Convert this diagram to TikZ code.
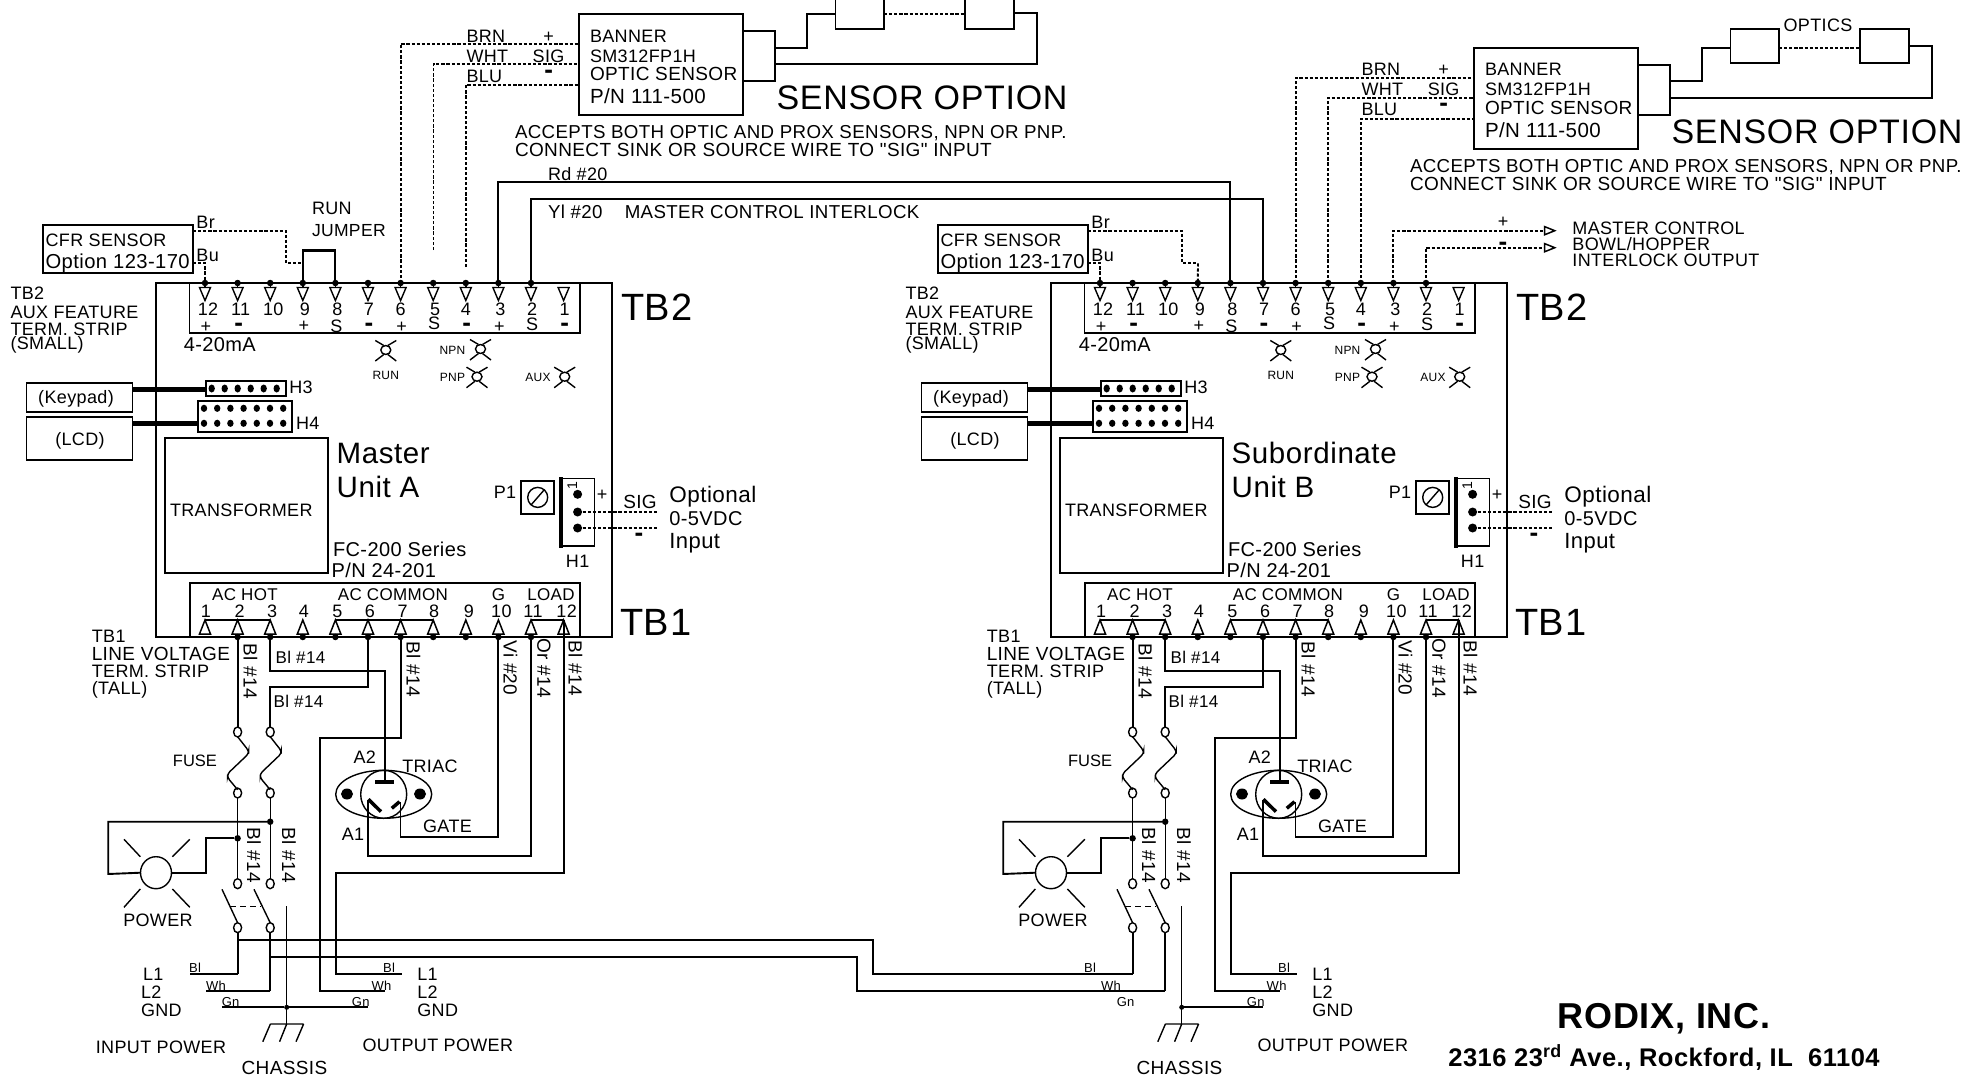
\documentclass[tikz,border=0pt]{standalone}
\usepackage{fontspec}
\setmainfont[LetterSpace=2]{Liberation Sans}
\newfontfamily\plainface{Liberation Sans}
\newfontfamily\qface[LetterSpace=2]{Liberation Sans}
\usetikzlibrary{shapes.geometric,arrows.meta}
\newcommand{\fsz}[1]{\fontsize{#1}{#1}\selectfont}
\tikzset{
  w/.style={line width=1.9pt,line join=miter},
  thn/.style={line width=1.4pt},
  dsh/.style={line width=1.9pt,dash pattern=on 3.2pt off 1.9pt},
  bx/.style={draw,line width=1.9pt,inner sep=0,outer sep=0},
  lb/.style={inner sep=0,outer sep=0,font=\fsz{18},align=left},
  lw/.style={lb,anchor=west},
  big/.style={lb,anchor=west,font=\fsz{38}},
  tiny/.style={lb,font=\fsz{13}},
  led/.style={lb,font=\fsz{12}},
  minus/.style={lb,font=\fsz{26}\bfseries},
  contact/.style={ellipse,draw,thn,fill=white,inner sep=0,outer sep=0,minimum width=8pt,minimum height=10pt},
  dot/.style={circle,fill=black,inner sep=0,outer sep=0,minimum size=6.5pt},
}
\newcommand{\LEDsym}[2]{%
  \begin{scope}[shift={(#1,#2)},thn]
    \draw (0,0) ellipse (5 and 4.5);
    \draw (2,-4.5)--(10.5,-9.5) (-2,-4.5)--(-10.5,-9.5) (2,4.5)--(10.5,11) (-2,4.5)--(-10.5,11);
  \end{scope}}
\newcommand{\FuseSym}[1]{%
  \draw[thn,rounded corners=3pt] (#1,736.7)--++(11,14)--++(0,3)--++(-21,20)--++(0,4)--++(10,12);}
\newcommand{\SensorBox}{%
  \node[bx,minimum width=163.6pt,minimum height=101pt] (sens) at (661.2,64.5) {};
  \node[bx,minimum width=32pt,minimum height=50pt] (conn) at (759,56) {};
  \node[bx,minimum width=48.5pt,minimum height=34pt] (o1) at (859.75,12) {};
  \node[bx,minimum width=48.5pt,minimum height=34pt] (o2) at (989.5,12) {};
  \coordinate (sbrn) at (579.4,44);
  \coordinate (swht) at (579.4,64);
  \coordinate (sblu) at (579.4,85);
  \draw[w] (775,47.7) -| (806.7,14) -- (o1.west |- 0,14);
  \draw[w] (o2.east |- 0,12.7) -| (1037,64) -- (775,64);
  \draw[dsh] (o1.east |- 0,14) -- (o2.west |- 0,14);
  \node[lw] (t-ban) at (590,36) {BANNER};
  \node[lw] (t-sm) at (590,56) {SM312FP1H};
  \node[lw,font=\fsz{19}] (t-op) at (590,74) {OPTIC SENSOR};
  \node[lw,font=\fsz{20.5}] (t-pn) at (590,96) {P/N 111-500};
  \node[lw] (t-brn) at (466.5,36) {BRN};
  \node[lw] (t-wht) at (466.5,56) {WHT};
  \node[lw] (t-blu) at (466.5,76) {BLU};
  \node[lb] (t-pl) at (548.6,37) {+};
  \node[lb] (t-sig) at (548.6,56) {SIG};
  \node[minus] (t-mi) at (548.6,74) {-};
  \node[big,font=\fsz{34}] (t-so) at (776.6,98) {SENSOR OPTION};
  \node[lw,font=\fsz{18.7}] (t-a1) at (515,133) {ACCEPTS BOTH OPTIC AND PROX SENSORS, NPN OR PNP.};
  \node[lw,font=\fsz{19}] (t-a2) at (515,150) {CONNECT SINK OR SOURCE WIRE TO {\qface "SIG"} INPUT};
}
\newcommand{\UnitCommon}[2]{%
  \node[bx,minimum width=456pt,minimum height=354pt] (board) at (384,460) {};
  \node[bx,minimum width=390.5pt,minimum height=50pt] (tb2) at (384.75,308) {};
  \node[bx,minimum width=390pt,minimum height=54pt] (tb1) at (385,610) {};
  % TB2 terminals
  \foreach \tk/\tn/\dx in {0/12/3,1/11/3,2/10/3,3/9/2,4/8/2,5/7/1,6/6/0,7/5/2,8/4/0,9/3/2,10/2/1,11/1/1}{
    \pgfmathsetmacro{\xx}{205+32.6*\tk}
    \coordinate (tt\tn) at (\xx,283);
    \draw[thn] (\xx-5.5,287.5)--(\xx+5.5,287.5)--(\xx,300.5)--cycle;
    \ifnum\tn>1 \node[dot] (dd\tn) at (tt\tn) {}; \draw[thn] (tt\tn)--++(0,5); \fi
    \node[lb] (nn\tn) at (\xx+\dx,309) {\tn};
  }
  \foreach \tn/\tt/\yy in {12/+/327.5,9/+/326,8/S/326,6/+/327.5,5/S/323,3/+/327.5,2/S/324}{
    \node[lb] (ss\tn) at ([xshift=1pt]tt\tn |- 0,\yy) {\tt};
  }
  \foreach \tn in {11,7,4,1}{ \node[minus] (ss\tn) at ([xshift=1pt]tt\tn |- 0,327.5) {-}; }
  % TB1 terminals
  \foreach \tk/\tn/\dx in {0/1/1,1/2/2,2/3/2,3/4/1,4/5/2,5/6/2,6/7/2,7/8/1,8/9/3,9/10/3,10/11/2,11/12/3}{
    \pgfmathsetmacro{\xx}{205+32.6*\tk}
    \coordinate (ts\tn) at (\xx,637);
    \coordinate (tp\tn) at (\xx,620);
    \draw[w,line width=1.5pt] (\xx-5.5,634)--(\xx+5.5,634)--(\xx,620)--cycle;
    \ifnum\tn>1 \ifnum\tn<12 \node[dot] (de\tn) at (ts\tn) {}; \fi\fi
    \node[lb] (na\tn) at (\xx+\dx,611.5) {\tn};
  }
  \draw[w,line width=1.5pt] (tp1)--(tp3) (tp5)--(tp8) (tp11)--(tp12);
  \node[lb,font=\fsz{17}] (t-hot) at (245,595) {AC HOT};
  \node[lb,font=\fsz{17}] (t-com) at (393,595) {AC COMMON};
  \node[lb,font=\fsz{17}] (t-g) at (498.5,595) {G};
  \node[lb,font=\fsz{17}] (t-lo) at (551,595) {LOAD};
  \node[big] (t-tb2) at (621,307) {TB2};
  \node[big] (t-tb1) at (620,622) {TB1};
  \node[lw] (t-x1) at (10.5,293) {TB2};
  \node[lw] (t-x2) at (10.5,312) {AUX FEATURE};
  \node[lw] (t-x3) at (10.5,329) {TERM. STRIP};
  \node[lw] (t-x4) at (10.5,345) {(SMALL)};
  \node[lw,font=\fsz{20}] (t-420) at (183.8,345) {4-20mA};
  \LEDsym{385.8}{350}\LEDsym{480.5}{349}\LEDsym{477}{376.7}\LEDsym{564.7}{376.7}
  \node[led] (t-run) at (385.8,375) {RUN};
  \node[led] (t-npn) at (452.5,350.7) {NPN};
  \node[led] (t-pnp) at (452.5,377.5) {PNP};
  \node[led] (t-aux) at (538,377) {AUX};
  % CFR
  \node[bx,minimum width=150pt,minimum height=48pt] (cfr) at (118,249) {};
  \node[lw] (t-c1) at (45.6,240.7) {CFR SENSOR};
  \node[lw,font=\fsz{20.2}] (t-c2) at (45.6,263) {Option 123-170};
  \node[lw] (t-br) at (196.4,222.7) {Br};
  \node[lw] (t-bu) at (196.4,255.7) {Bu};
  \coordinate (cbr) at (193,230.7);
  \coordinate (cbu) at (193,263);
  \draw[dsh] (cbu) -| (tt12);
  % headers
  \node[bx,minimum width=106pt,minimum height=29pt] (keyp) at (79.5,397.2) {};
  \node[lb] (t-key) at (76,398.5) {(Keypad)};
  \node[bx,minimum width=106pt,minimum height=43.3pt] (lcd) at (79.5,438.3) {};
  \node[lb] (t-lcd) at (80,441) {(LCD)};
  \node[bx,minimum width=80pt,minimum height=15.5pt] (h3) at (245.6,388.5) {};
  \foreach \tk in {0,...,5}{ \fill (211.7+13*\tk,388.5) ellipse (3.2 and 4); }
  \node[lw] (t-h3) at (289.3,387.5) {H3};
  \node[bx,minimum width=93.8pt,minimum height=30.7pt] (h4) at (245,416.3) {};
  \foreach \tk in {0,...,6}{ \fill (204+13.2*\tk,408.3) ellipse (3.2 and 3.6); \fill (204+13.2*\tk,423.3) ellipse (3.2 and 3.6); }
  \node[lw] (t-h4) at (296,423.3) {H4};
  \draw[line width=4.5pt] (keyp.east |- 0,389.3) -- (h3.west |- 0,389.3);
  \draw[line width=4.5pt] (lcd.east |- 0,423.3) -- (h4.west |- 0,423.3);
  \node[bx,minimum width=163.2pt,minimum height=135pt] (trf) at (246.4,505.8) {};
  \node[lb] (t-trf) at (241.3,510.7) {TRANSFORMER};
  \node[lw,font=\fsz{29.5}] (t-m1) at (336.7,453.3) {#1};
  \node[lw,font=\fsz{29.5}] (t-m2) at (336.7,487.3) {#2};
  \node[lw,font=\fsz{20}] (t-fc) at (333,549) {FC-200 Series};
  \node[lw,font=\fsz{20}] (t-pn2) at (331.6,570.7) {P/N 24-201};
  % pot and H1
  \node[lb] (t-p1) at (505,492.7) {P1};
  \node[bx,minimum width=32.6pt,minimum height=33.3pt] (pot) at (537.7,497.4) {};
  \draw[thn] (537.7,497.4) circle (10);
  \draw[thn] (531,505) -- (544.5,489.5);
  \node[draw,thn,inner sep=0,outer sep=0,minimum width=33.4pt,minimum height=67.7pt] (h1) at (577.7,512.2) {};
  \draw[line width=4pt] (561,477) -- (561,547.7);
  \node[lb,rotate=90,font=\fsz{14}] (t-one) at (572.4,486) {1};
  \fill (577.6,494.3) circle (4.5);
  \fill (577.6,512) circle (4.5);
  \fill (577.6,528) circle (4.5);
  \node[lb] (t-hp) at (602,495) {+};
  \draw[dsh] (577.6,512) -- (658,512);
  \draw[dsh] (577.6,528) -- (658,528);
  \node[lb,font=\fsz{19}] (t-s2) at (640,501.7) {SIG};
  \node[minus] (t-m3) at (639,537.5) {-};
  \node[lb] (t-h1) at (577.6,561.7) {H1};
  \node[lw,font=\fsz{22.5}] (t-op1) at (669.4,496.7) {Optional};
  \node[lw,font=\fsz{20}] (t-op2) at (669.4,519) {0-5VDC};
  \node[lw,font=\fsz{22}] (t-op3) at (669.4,543.3) {Input};
  % TB1 side label
  \node[lw] (t-y1) at (91.8,636.7) {TB1};
  \node[lw,font=\fsz{19}] (t-y2) at (91.8,653.5) {LINE VOLTAGE};
  \node[lw] (t-y3) at (91.8,671.7) {TERM. STRIP};
  \node[lw] (t-y4) at (91.8,690) {(TALL)};
  % fuses
  \node[contact] (f1t) at (237.6,732) {};
  \node[contact] (f2t) at (270.2,732) {};
  \node[contact] (f1b) at (237.6,793) {};
  \node[contact] (f2b) at (270.2,793) {};
  \FuseSym{237.6}\FuseSym{270.2}
  \node[contact] (c1t) at (237.6,883.7) {};
  \node[contact] (c2t) at (270.2,883.7) {};
  \node[contact] (c1b) at (237.6,927.7) {};
  \node[contact] (c2b) at (270.2,927.7) {};
  \node[lb,font=\fsz{16.5}\plainface] (t-fuse) at (195,760.7) {FUSE};
  \draw[thn] (f1b) -- (c1t);
  \draw[thn] (f2b) -- (c2t);
  \node[dot] (d1) at (237.6,838.3) {};
  \node[dot] (d2) at (270.2,821.7) {};
  % lamp
  \node[ellipse,draw,thn,inner sep=0,outer sep=0,minimum width=31pt,minimum height=32pt] (lamp) at (156,872.7) {};
  \draw[w] (d2) -| (108.2,874) -- (lamp.west);
  \draw[w] (lamp.east) -| (205.6,838.3) -- (d1);
  \draw[thn] (140.3,856.7)--(124,839.3) (172.4,856.7)--(189.8,839.3) (140.3,889)--(124,907.3) (172.4,889)--(189.8,907.3);
  \node[lb] (t-pow) at (158,920) {POWER};
  % switch
  \draw[thn] (222,889.3)--(c1b.north) (254,889.3)--(c2b.north);
  \draw[thn,dash pattern=on 6pt off 4pt] (230,906.7)--(261,906.7);
  \coordinate (j1) at (237.6,974);
  \coordinate (j2) at (270.2,990.7);
  \draw[w] (c1b.south) -- (j1);
  \draw[w] (c2b.south) -- (j2);
  \node[tiny] (t-bl1) at (195,968) {Bl};
  \node[tiny] (t-wh1) at (216,985.7) {Wh};
  \node[tiny] (t-gn1) at (230.6,1002.3) {Gn};
  \node[tiny] (t-bl2) at (389,968) {Bl};
  \node[tiny] (t-wh2) at (381.6,985.7) {Wh};
  \node[tiny] (t-gn2) at (360.7,1002.3) {Gn};
  \node[lw] (t-l1) at (417.3,974) {L1};
  \node[lw] (t-l2) at (417.3,992) {L2};
  \node[lw] (t-gd) at (417.3,1010.7) {GND};
  \node[lb] (t-ou) at (437.8,1045.7) {OUTPUT POWER};
  \node[lb,font=\fsz{19}] (t-ch) at (284.5,1067.7) {CHASSIS};
  % chassis
  \coordinate (gtop) at (286.7,906);
  \coordinate (gbar) at (286.7,1024);
  \coordinate (gr) at (368.4,1007.3);
  \node[dot,minimum size=5pt] (gdot) at (286.7,1007.3) {};
  \draw[thn] (gtop) -- (gbar);
  \draw[w] (gdot) -- (gr);
  \draw[thn] (270.4,1024)--(303.6,1024) (270.4,1024)--(262.8,1041.7) (286.7,1024)--(279.6,1041.7) (303.6,1024)--(296,1041.7);
  % triac
  \node[ellipse,draw,thn,inner sep=0,outer sep=0,minimum width=96pt,minimum height=48pt] (tbody) at (383.7,794.3) {};
  \draw[thn] (383.7,794.3) ellipse (23 and 24);
  \fill (347,794) ellipse (6 and 5.5);
  \fill (420,794) ellipse (6 and 5.5);
  \draw[line width=4pt] (375,781.7) -- (394,781.7);
  \draw[line width=3.5pt] (368.4,799.3) -- (381,811.7);
  \draw[line width=3.5pt] (391.8,808.3) -- (399.5,801.7);
  \coordinate (tra2) at (385.2,781.7);
  \coordinate (tra1) at (368.4,800);
  \coordinate (trg) at (400.5,802);
  \coordinate (owh) at (385,990.7);
  \coordinate (obl) at (401.5,974);
  \node[lb] (t-a2t) at (364.8,757.7) {A2};
  \node[lb] (t-tri) at (430,766.7) {TRIAC};
  \node[lb] (t-a1t) at (353,834) {A1};
  \node[lb] (t-gate) at (447.5,826.7) {GATE};
  % wires
  \draw[w] (ts2) -- (f1t);
  \draw[w] (ts3) -- ++(0,33.7) -| (tra2);
  \draw[w] (ts6) -- ++(0,50.3) -| (f2t);
  \draw[w] (ts7) -- ++(0,100.7) -| (320,990.7) -- (owh);
  \draw[w] (ts10) -- ++(0,200.3) -| (trg);
  \draw[w] (ts11) -- ++(0,218.7) -| (tra1);
  \draw[w] (tp12) -- (ts12) -- ++(0,236) -| (335.7,974) -- (obl);
  \node[lb,rotate=-90,font=\fsz{19}] (t-w1) at (250.5,671) {Bl \#14};
  \node[lb,font=\fsz{17}] (t-w2) at (300.5,657.3) {Bl \#14};
  \node[lb,font=\fsz{17}] (t-w3) at (298.5,701.7) {Bl \#14};
  \node[lb,rotate=-90,font=\fsz{19}] (t-w4) at (413.5,669) {Bl \#14};
  \node[lb,rotate=-90,font=\fsz{19}] (t-w5) at (510.5,668) {Vi \#20};
  \node[lb,rotate=-90,font=\fsz{19}] (t-w6) at (544,668) {Or \#14};
  \node[lb,rotate=-90,font=\fsz{19}] (t-w7) at (575.5,668) {Bl \#14};
  \node[lb,rotate=-90,font=\fsz{19}] (t-w8) at (254,855) {Bl \#14};
  \node[lb,rotate=-90,font=\fsz{19}] (t-w9) at (289,855) {Bl \#14};
}
\begin{document}
\begin{tikzpicture}[x=1pt,y=-1pt]
  \fill[white] (0,0) rectangle (1965,1078);
  \clip (0,0) rectangle (1965,1078);
  \begin{scope}[name prefix=a-]
    \UnitCommon{Master}{Unit A}
    \SensorBox
    \coordinate (wfree) at (433.5,250);
    \coordinate (bfree) at (465.8,267);
    \draw[dsh] (tt6) |- (sbrn);
    \draw[dsh] (wfree) |- (swht);
    \draw[dsh] (bfree) |- (sblu);
    \draw[dsh] (cbr) -| (286,263.3) -- (303,263.3);
    \draw[w] (tt9) -- ++(0,-33) -| (tt8);
    \draw[line width=3pt] (303,250) -- (335.6,250);
    \node[lw] (t-run2) at (312,208) {RUN};
    \node[lw,font=\fsz{17.5}] (t-jmp) at (312,231) {JUMPER};
    \draw[w] (j1) -- (189.8,974);
    \draw[w] (j2) -- (205.6,990.7);
    \draw[w] (222,1007.3) -- (gdot);
    \node[lw] (t-il1) at (143,974) {L1};
    \node[lw] (t-il2) at (141,992) {L2};
    \node[lw] (t-ig) at (141,1010.7) {GND};
    \node[lb] (t-ip) at (161,1047.7) {INPUT POWER};
    \coordinate (long1) at (237.6,940);
    \coordinate (long2) at (270.2,957);
  \end{scope}
  \begin{scope}[xshift=895pt,name prefix=b-]
    \UnitCommon{Subordinate}{Unit B}
    \begin{scope}[shift={(0,33.7)}]
      \SensorBox
    \end{scope}
    \node[lb] (t-optics) at (923,25) {OPTICS};
    \draw[dsh] (tt6) |- (sbrn);
    \draw[dsh] (tt5) |- (swht);
    \draw[dsh] (tt4) |- (sblu);
    \draw[dsh] (cbr) -| (286.9,263.3) -- (303,263.3);
    \draw[dsh] (303,263.3) -- (tt9);
    \coordinate (mc1) at (661.8,230.7);
    \coordinate (mc2) at (661.8,247.7);
    \draw[dsh,-{Triangle[open,length=13pt,width=10pt,line width=1.5pt]}] (tt3) |- (mc1);
    \draw[dsh,-{Triangle[open,length=13pt,width=10pt,line width=1.5pt]}] (tt2) |- (mc2);
    \node[lb] (t-p) at (608,222.7) {+};
    \node[minus] (t-mn) at (608,246) {-};
    \node[lw] (t-mc1) at (677.4,228) {MASTER CONTROL};
    \node[lw] (t-mc2) at (677.4,244) {BOWL/HOPPER};
    \node[lw] (t-mc3) at (677.4,260.7) {INTERLOCK OUTPUT};
  \end{scope}
  % interconnects between the two units
  \draw[w] (a-tt3) -- ++(0,-101) -| (b-tt8);
  \draw[w] (a-tt2) -- ++(0,-84) -| (b-tt7);
  \node[lw] (t-rd) at (548,174) {Rd \#20};
  \node[lw,font=\fsz{18.7}] (t-yl) at (548,212) {Yl \#20\ \ \ \ MASTER CONTROL INTERLOCK};
  \draw[w] (a-long1) -- (873,940) |- (b-j1);
  \draw[w] (a-long2) -- (857,957) |- (b-j2);
  % company
  \node[lb,font=\fsz{36}\bfseries] (t-rodix) at (1664,1019) {RODIX, INC.};
  \node[lb,font=\fsz{25.5}\bfseries] (t-addr) at (1664,1057.7) {2316 23\textsuperscript{rd} Ave., Rockford, IL\ \ 61104};
\end{tikzpicture}
\end{document}
